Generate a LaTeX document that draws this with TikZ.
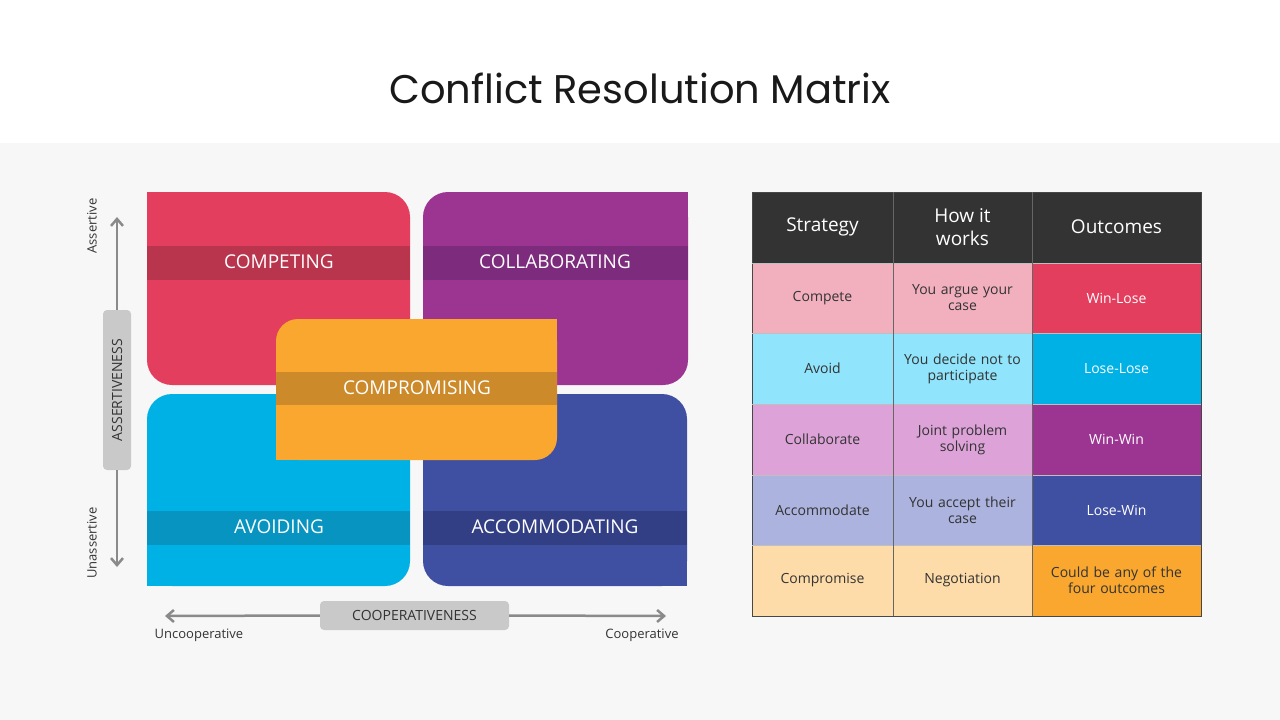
\documentclass[tikz,border=0pt]{standalone}
\usepackage{fontspec}
\usetikzlibrary{arrows.meta}
\setmainfont{Open Sans}
\newfontfamily\titlefont{Poppins}
\definecolor{bg}{HTML}{F7F7F7}
\definecolor{cred}{HTML}{E33E5E}\definecolor{bred}{HTML}{B9344D}
\definecolor{cpur}{HTML}{9C3592}\definecolor{bpur}{HTML}{7D2C7D}
\definecolor{cora}{HTML}{F9A72E}\definecolor{bora}{HTML}{CC8A2A}
\definecolor{cblu}{HTML}{00B1E5}\definecolor{bblu}{HTML}{0894C0}
\definecolor{cind}{HTML}{3F4FA2}\definecolor{bind}{HTML}{333F84}
\definecolor{axg}{HTML}{8A8A8A}\definecolor{boxg}{HTML}{C9C9C9}
\definecolor{hdr}{HTML}{333333}
\definecolor{pred}{HTML}{F2B0BE}\definecolor{pblu}{HTML}{90E4FB}
\definecolor{ppur}{HTML}{DDA3D9}\definecolor{pind}{HTML}{ABB3DE}\definecolor{pora}{HTML}{FDDCAA}
\definecolor{txt}{HTML}{333333}
\begin{document}
\begin{tikzpicture}[x=1pt,y=-1pt,
  lab/.style={text=white,font=\fontsize{19}{22}\selectfont},
  cell/.style={align=center,font=\fontsize{14}{16}\selectfont,text=txt,text width=130pt},
  axl/.style={text=txt,font=\fontsize{13}{15}\selectfont},
  arr/.style={draw=axg,line width=2.5pt,-{Straight Barb[length=7pt,width=12pt]}}]
\useasboundingbox (0,0) rectangle (1280,720);
\fill[white] (0,0) rectangle (1280,143);
\fill[bg] (0,143) rectangle (1280,720);
\node[font=\titlefont\fontsize{40}{44}\selectfont,text=black!90] (title) at (640,88) {Conflict Resolution Matrix};
% quadrants
\fill[cred,rounded corners=25pt] (147,192) rectangle (410,385);
\fill[cred] (147,192) rectangle (180,230); \fill[cred] (380,350) rectangle (410,385);
\fill[cpur,rounded corners=25pt] (423,192) rectangle (688,385);
\fill[cpur] (650,192) rectangle (688,230); \fill[cpur] (423,350) rectangle (460,385);
\fill[cblu,rounded corners=25pt] (147,394) rectangle (410,586);
\fill[cblu] (147,550) rectangle (180,586); \fill[cblu] (380,394) rectangle (410,430);
\fill[cind,rounded corners=25pt] (423,394) rectangle (687,586);
\fill[cind] (650,550) rectangle (687,586); \fill[cind] (423,394) rectangle (460,430);
\fill[bred] (147,246) rectangle (410,280);
\fill[bpur] (423,246) rectangle (688,280);
\fill[bblu] (147,511) rectangle (410,545);
\fill[bind] (423,511) rectangle (687,545);
\fill[cora,rounded corners=22pt] (276,319) rectangle (557,460);
\fill[cora] (520,319) rectangle (557,350); \fill[cora] (276,430) rectangle (310,460);
\fill[bora] (276,372) rectangle (557,405);
\node[lab] (competing) at (279,262) {COMPETING};
\node[lab] (collab) at (555,262) {COLLABORATING};
\node[lab] (comprom) at (417,388) {COMPROMISING};
\node[lab] (avoiding) at (279,527) {AVOIDING};
\node[lab] (accom) at (555,527) {ACCOMMODATING};
% axes
\coordinate (vt) at (117,217); \coordinate (vb) at (117,567);
\coordinate (hl) at (165,616); \coordinate (hr) at (666,616);
\node[fill=boxg,rounded corners=4pt,minimum width=160pt,minimum height=28pt,rotate=90,axl,font=\fontsize{14}{16}\selectfont] (assert) at (117,390) {ASSERTIVENESS};
\node[fill=boxg,rounded corners=4pt,minimum width=189pt,minimum height=29pt,axl,font=\fontsize{14}{16}\selectfont] (coop) at (414.5,615.5) {COOPERATIVENESS};
\draw[arr] (assert.east) -- (vt);
\draw[arr] (assert.west) -- (vb);
\draw[arr] (coop.west) -- (hl);
\draw[arr] (coop.east) -- (hr);
\node[axl,rotate=90] (as) at (92,226) {Assertive};
\node[axl,rotate=90] (unas) at (92,543) {Unassertive};
\node[axl] (uncoop) at (199,635) {Uncooperative};
\node[axl] (cooptx) at (642,635) {Cooperative};
% table
\fill[hdr] (752,192) rectangle (1201,263);
\fill[pred] (752,263) rectangle (1032,333); \fill[cred] (1032,263) rectangle (1201,333);
\fill[pblu] (752,333) rectangle (1032,404); \fill[cblu] (1032,333) rectangle (1201,404);
\fill[ppur] (752,404) rectangle (1032,475); \fill[cpur] (1032,404) rectangle (1201,475);
\fill[pind] (752,475) rectangle (1032,545); \fill[cind] (1032,475) rectangle (1201,545);
\fill[pora] (752,545) rectangle (1032,616); \fill[cora] (1032,545) rectangle (1201,616);
\draw[hdr!90,line width=1pt] (752,192) rectangle (1201,616);
\foreach \y in {263,333,404,475,545} \draw[black!25,line width=0.6pt] (752,\y) -- (1201,\y);
\draw[black!60,line width=1pt] (893,192) -- (893,616) (1032,192) -- (1032,616);
\foreach \x/\t/\n in {822.5/Strategy/h1,962.5/{How it\\works}/h2,1116.5/Outcomes/h3}
  \node[align=center,text=white,font=\fontsize{19}{23}\selectfont] (\n) at (\x,227) {\t};
\node[cell] (c1a) at (822.5,298) {Compete};
\node[cell] (c1b) at (962.5,298) {You argue your\\case};
\node[cell,text=white] (c1c) at (1116.5,298) {Win-Lose};
\node[cell] (c2a) at (822.5,368.5) {Avoid};
\node[cell] (c2b) at (962.5,368.5) {You decide not to\\participate};
\node[cell,text=white] (c2c) at (1116.5,368.5) {Lose-Lose};
\node[cell] (c3a) at (822.5,439.5) {Collaborate};
\node[cell] (c3b) at (962.5,439.5) {Joint problem\\solving};
\node[cell,text=white] (c3c) at (1116.5,439.5) {Win-Win};
\node[cell] (c4a) at (822.5,510) {Accommodate};
\node[cell] (c4b) at (962.5,510) {You accept their\\case};
\node[cell,text=white] (c4c) at (1116.5,510) {Lose-Win};
\node[cell] (c5a) at (822.5,580.5) {Compromise};
\node[cell] (c5b) at (962.5,580.5) {Negotiation};
\node[cell,text width=160pt] (c5c) at (1116.5,580.5) {Could be any of the\\four outcomes};
\end{tikzpicture}
\end{document}
